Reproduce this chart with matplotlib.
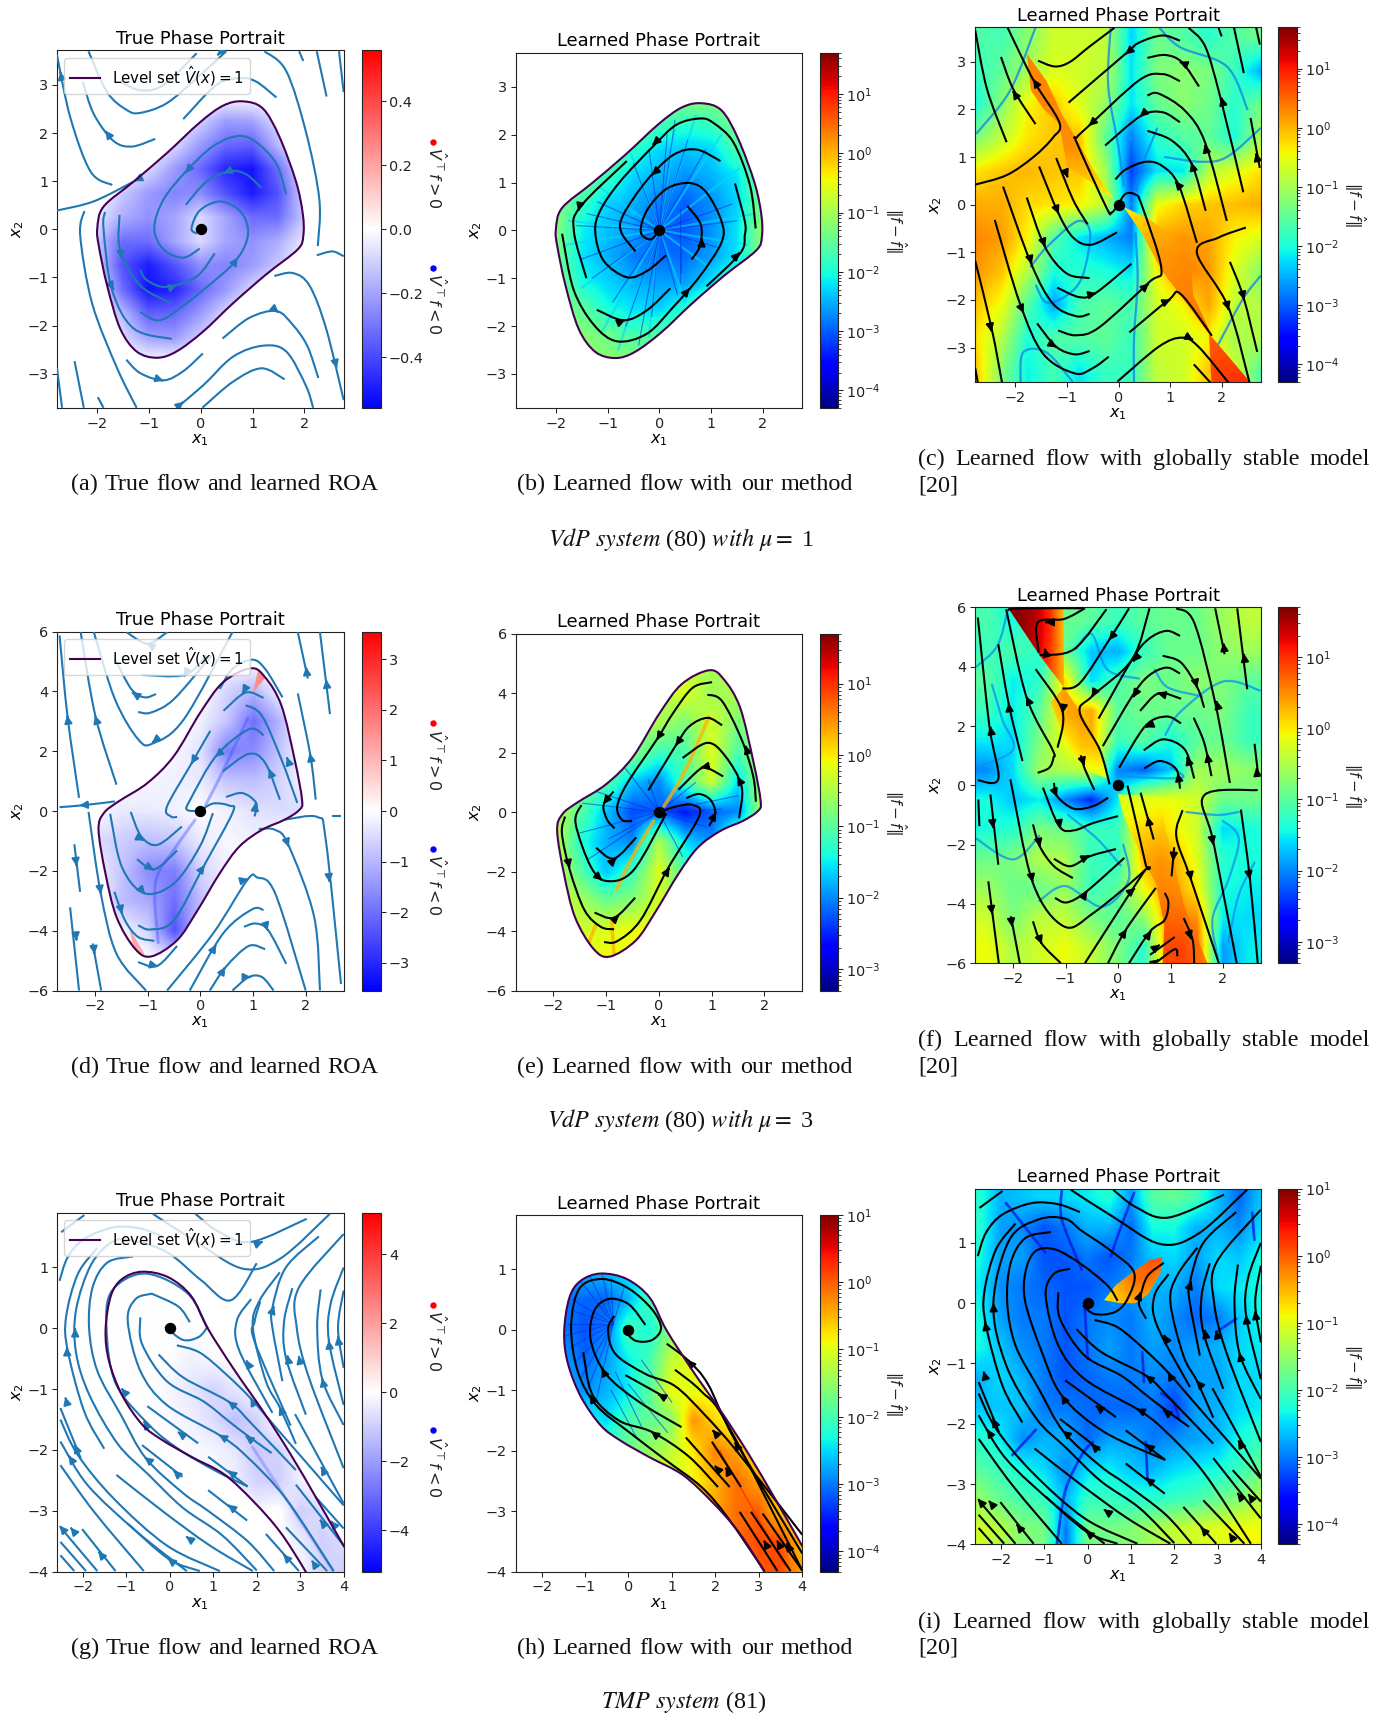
import numpy as np
import matplotlib
matplotlib.use("Agg")
import matplotlib.pyplot as plt
from matplotlib.path import Path
from matplotlib.patches import PathPatch, FancyArrowPatch
from matplotlib.lines import Line2D
from matplotlib.colors import LogNorm, Normalize
from matplotlib.cm import ScalarMappable

# ---------- level sets ----------
VDP1_BOUNDARY = [(-2.0,.02),(-1.88,.47),(-1.3,.99),(-.66,1.58),(-.02,2.22),(.43,2.57),(.81,2.66),(1.2,2.51),(1.52,1.92),(1.84,.99),(1.97,.32),(1.98,-.13),(1.87,-.42),(1.26,-.94),(.62,-1.54),(.04,-2.13),(-.47,-2.54),(-.85,-2.67),(-1.24,-2.54),(-1.56,-2.06),(-1.81,-1.17),(-1.97,-.35)]
VDP3_BOUNDARY = [(.95,4.77),(1.23,4.47),(1.54,3.52),(1.79,1.72),(1.93,.38),(1.88,.04),(1.6,-.29),(1.17,-.63),(.74,-1.19),(.37,-2.08),(-.07,-3.37),(-.44,-4.32),(-.93,-4.86),(-1.24,-4.6),(-1.59,-3.54),(-1.8,-2.08),(-1.93,-.63),(-1.83,-.07),(-1.55,.32),(-1,.94),(-.5,1.84),(0,3.29),(.43,4.3)]
TMP_BOUNDARY = [(-.64,.93),(-.04,.84),(.49,.53),(.87,0),(1.48,-.68),(2.16,-1.38),(2.77,-2.06),(3.37,-2.79),(3.98,-3.55),(4.5,-4.2),(3.6,-4.6),(3.11,-3.98),(2.54,-3.35),(1.93,-2.85),(1.25,-2.4),(.49,-2.11),(-.19,-1.83),(-.64,-1.58),(-1.1,-1.1),(-1.4,-.54),(-1.48,-.03),(-1.36,.53),(-1.1,.81)]

# ---------- streamlines ----------
A_LINES = [
[(-2.78,3.63),(-2.52,2.32),(-2.13,1.2),(-1.71,.92)],
[(-2.28,3.07),(-2.07,2.4),(-1.69,1.84),(-1.33,1.72),(-.88,1.88)],
[(-2.17,3.7),(-1.81,2.85),(-1.43,2.48),(-1.17,2.42),(-.66,2.62),(-.08,3.14),(.49,3.7)],
[(-1.56,3.07),(-1.17,2.89),(-.72,3.0),(-.08,3.66)],
[(1.46,2.74),(1.07,3.07),(.75,3.14),(.3,3.0),(-.34,2.29)],
[(1.23,3.7),(1.65,3.29),(2.03,2.03),(2.29,.62),(2.26,-.35)],
[(1.9,3.7),(1.98,3.5)],[(2.24,3.7),(2.43,2.76)],[(2.67,3.7),(2.76,2.85)],
[(-2.78,.39),(-2.07,.58),(-1.3,.99)],
[(-2.25,.38),(-2.33,-.13),(-2.1,-1.54),(-1.62,-2.88),(-1.24,-3.71)],
[(-1.85,.36),(-1.88,.02),(-1.72,-1.24),(-1.3,-2.06),(-.56,-2.28)],
[(-1.57,.3),(-1.56,-.42),(-1.17,-1.17),(-.56,-1.54)],
[(1.65,.73),(1.46,1.36),(1.07,1.81),(.72,1.94),(.24,1.73),(-.28,1.21),(-.72,.62),(-.9,.02),(-.72,-.42),(-.34,-.59),(-.02,-.4)],
[(1.17,.86),(.88,1.14),(.56,1.21),(.11,.99),(-.29,.51)],
[(-1.17,-1.72),(-.79,-1.89),(-.28,-1.54),(.24,-1.09),(.62,-.72),(.85,-.35),(.91,.02),(.75,.39),(.37,.58),(-.02,.39),(-.18,.02),(-.08,-.09)],
[(-1.17,-.85),(-1.04,-1.06),(-.66,-1.2),(-.08,-.98),(.27,-.5)],
[(-1.44,-2.71),(-1.17,-2.99),(-.72,-3.14),(-.34,-2.95),(.04,-2.58)],
[(.42,-2.27),(.94,-1.84),(1.46,-1.7),(1.78,-1.99),(2.06,-2.43),(2.27,-3.09)],
[(-.47,-3.71),(.04,-3.25),(.62,-2.65),(1.2,-2.42),(1.65,-2.54),(2.03,-3.25),(2.17,-3.71)],
[(.03,-3.71),(.62,-3.17),(1.17,-2.89),(1.62,-3.12)],
[(1.42,-.97),(1.78,-.91),(2.1,-1.17),(2.42,-2.06),(2.76,-3.55)],
[(2.24,-.54),(2.54,-.46),(2.76,-.56)],
[(-2.44,-2.74),(-2.26,-3.71)],[(-1.99,-3.49),(-1.88,-3.71)],[(-2.78,-2.88),(-2.68,-3.71)],
]
A_ARROWS = [(-2.71,3.25,'u'),(-1.83,2.03,'u'),(.33,3.63,'l'),(-1.27,1.01,'l'),(-.28,1.19,'l'),(.46,1.17,'l'),(-1.53,-.59,'d'),(-1.69,-1.24,'d'),(-.48,-1.17,'r'),(.7,-.61,'r'),(-.74,-3.14,'r'),(1.49,-1.72,'r'),(-.35,-3.6,'r'),(2.62,-2.86,'d')]

B_LINES = [
[(1.86,.04),(1.75,.94),(1.43,1.84),(1.04,2.25),(.78,2.34),(.33,2.21),(-.12,1.76),(-.76,1.02),(-1.14,.42),(-1.24,-.03),(-1.08,-.63),(-.63,-.98),(-.24,-.85),(.13,-.52)],
[(1.18,1.45),(.72,1.69),(.27,1.58),(-.24,1.05),(-.69,.34),(-.74,-.03),(-.46,-.44)],
[(.62,-.61),(.78,-.33),(.8,.12),(.54,.51)],
[(-1.88,-.07),(-1.66,-1.23),(-1.27,-1.97),(-.82,-2.32),(-.24,-2.16),(.27,-1.6),(.78,-.96),(1.2,-.25),(1.2,.19),(.91,.79),(.59,.99),(.14,.87),(-.24,.42),(-.36,-.03),(-.18,-.19),(-.02,-.03)],
[(.91,-1.17),(1.56,-.48),(1.65,-.1),(1.65,.19),(1.46,.98)],
[(-.63,1.45),(-1.53,.49),(-1.65,-.03),(-1.41,-1.0)],
[(-1.21,-1.66),(-.69,-1.88),(-.24,-1.67),(.21,-1.21)],
]
B_ARROWS = [(-.12,1.8,'l'),(-.13,1.17,'l'),(-1.56,.43,'d'),(.82,-.19,'u'),(.57,-1.23,'r'),(1.54,-.48,'r'),(-.68,-1.88,'r')]

C_LINES = [
[(-2.78,3.66),(-2.55,2.42),(-2.17,1.31)],
[(-2.28,3.1),(-2.04,2.42),(-1.61,1.69)],
[(-2.15,3.71),(-1.65,2.61),(-1.15,1.73),(-1.27,1.41),(-1.65,1.0),(-2.17,.62),(-2.78,.42)],
[(-1.56,3.02),(-1.24,2.9),(-.95,2.99),(-.56,3.32),(-.08,3.71)],
[(1.19,3.44),(.85,3.55),(.4,3.4),(.14,3.17),(-.97,2.14)],
[(1.56,2.48),(1.23,2.99),(.91,3.14),(.56,3.08)],
[(1.19,2.59),(.85,2.74),(.4,2.61),(-.56,1.67),(-.81,1.41),(-.81,1.3),(-.24,-.05),(-.14,-.17),(-.01,-.01)],
[(1.36,3.71),(1.68,3.32),(1.97,2.27),(2.42,.26)],
[(1.94,3.71),(2.0,3.53)],[(2.24,3.71),(2.43,2.76)],[(2.67,3.71),(2.74,3.36)],[(2.56,1.82),(2.74,.77)],
[(2.1,-.34),(1.68,1.3),(1.29,1.97),(.78,2.33),(.56,2.29)],
[(1.19,1.73),(.85,1.94),(.43,1.86),(-.26,1.24)],
[(1.69,-.13),(1.42,.85),(1.04,1.34),(.56,1.55)],
[(1.52,-.8),(1.17,.4),(.85,.81),(.53,.9),(.14,.74),(-.06,.53)],
[(-1.17,-2.64),(-.82,-2.74),(-.37,-2.57),(.59,-1.63),(.83,-1.33),(.45,-.01),(.33,.21),(.14,.23),(0,.02)],
[(-1.21,.98),(-.88,.1),(-.6,-.41)],
[(-1.54,.8),(-1.17,-.17),(-.88,-.69),(-.53,-.84),(-.03,-.58)],
[(-1.78,.15),(-1.43,-.88),(-1.01,-1.44),(-.56,-1.54)],
[(-2.24,.38),(-1.69,-1.25),(-1.27,-2.08),(-.82,-2.34),(-.56,-2.29)],
[(-1.19,-1.74),(-.76,-1.94),(-.44,-1.85),(.25,-1.24)],
[(-2.4,-.32),(-1.91,-2.08),(-1.46,-3.13),(-.85,-3.54),(-.5,-3.43),(-.19,-3.19)],
[(-1.58,-2.49),(-1.21,-2.98),(-.85,-3.14),(-.56,-3.07)],
[(-2.78,-1.18),(-2.46,-2.6),(-2.26,-3.73)],[(-2.78,-3.43),(-2.73,-3.73)],
[(.21,-2.68),(.97,-2.0),(1.21,-1.88),(1.81,-2.75)],
[(-.02,-3.71),(.78,-2.98),(1.23,-2.79),(1.55,-2.98),(2.13,-3.73)],
[(1.46,-3.35),(1.78,-3.73)],
[(2.47,-.48),(1.94,-.69),(1.52,-1.01),(2.13,-2.15),(2.54,-3.73)],
[(2.16,-1.2),(2.42,-1.93),(2.69,-3.09)],
]
C_ARROWS = [(-2.04,2.37,'u'),(-1.64,2.61,'u'),(.15,3.17,'l'),(1.2,2.99,'l'),(-.56,1.67,'l'),(2.0,2.23,'u'),(2.67,1.06,'u'),(1.68,1.24,'u'),(.43,1.86,'l'),(1.42,.86,'u'),(1.11,.47,'u'),(.57,-1.67,'r'),(-.99,.59,'d'),(-1.17,-.17,'d'),(-1.43,-.86,'d'),(-1.69,-1.22,'d'),(-.45,-1.86,'r'),(-1.85,-2.25,'d'),(-1.22,-2.98,'r'),(-2.47,-2.64,'d'),(.99,-2.0,'r'),(1.43,-2.83,'r'),(2.13,-2.19,'d'),(2.43,-1.97,'d')]

D_LINES = [
[(-2.67,5.87),(-2.52,3.18),(-2.3,.44)],
[(-2.27,5.98),(-1.99,3.18),(-1.59,.88)],
[(-2.02,5.98),(-1.62,3.74),(-1.18,2.4),(-.9,2.26),(-.31,3.07),(.61,5.98)],
[(-1.62,5.08),(-1.31,4.08),(-1.06,3.8),(-.84,3.91)],
[(-1.18,3.31),(-.94,3.29),(-.5,3.74),(.21,5.2)],
[(.12,5.2),(-.3,4.55),(-1.12,4.55)],
[(-1.4,5.98),(-1,5.59),(-.63,5.98)],
[(.37,4.08),(.61,4.75),(.98,5.06),(1.23,4.75),(1.56,3.8)],
[(1.85,5.98),(2.04,4.43)],[(2.27,5.98),(2.46,3.24)],
[(1.85,3.93),(2.09,1.84),(2.19,.38)],
[(-2.67,.13),(-2.24,.19),(-1.62,.32)],
[(-2.12,-.03),(-1.89,-2.73),(-1.59,-4.77),(-1.03,-6)],
[(-1.18,-5.05),(-.82,-5.18),(-.44,-4.51)],
[(-1.63,-2.7),(-1.43,-3.65),(-1.18,-4.21),(-.87,-4.34)],
[(-1.71,-.09),(-1.49,-1.86),(-1.06,-2.75),(-.5,-2.42),(-.01,-1.19),(.24,-.07)],
[(-1.18,-3.82),(-.94,-3.96),(-.5,-3.65),(.06,-1.86),(.61,-.07),(.55,.18),(.24,.25),(0,0)],
[(-1.32,-.03),(-1.12,-.85),(-.81,-1.13),(-.35,-.52)],
[(-1.2,-1.61),(-.87,-1.95),(-.44,-1.32)],
[(1.2,3.78),(.86,3.96),(.44,3.35)],
[(1.84,.27),(1.54,1.72),(1.17,3.18),(.86,3.54)],
[(1.2,2.53),(.92,2.73),(.3,1.84),(-.19,.38),(-.25,.04),(0,0)],
[(.19,2.68),(-.16,1.61),(-.63,.16),(-.56,-.18),(-.44,-.2)],
[(1.51,.38),(1.23,1.61),(.92,1.91),(.43,1.33)],
[(1.03,-.18),(1.06,.27),(.8,.6),(.49,.47)],
[(2.49,-.16),(2.67,-.16)],
[(1.6,-.29),(2.22,-.2),(2.38,-.96),(2.67,-5.78)],
[(1.11,-.6),(1.42,-.63),(1.67,-1.13),(2.16,-3.54),(2.27,-6.0)],
[(-.63,-6),(.24,-4.1),(.89,-2.31),(1.08,-2.22),(1.42,-2.75),(2.0,-6)],
[(-.2,-6),(.43,-4.1),(.98,-3.29),(1.2,-3.31)],
[(.18,-6),(.49,-5.2),(.92,-4.51),(1.23,-4.62)],
[(.83,-3.87),(1.05,-3.76),(1.29,-3.99),(1.63,-5.11)],
[(.61,-6),(.92,-5.55),(1.17,-5.55),(1.39,-6)],
[(-2.39,-1.11),(-2.28,-2.7)],[(-2.47,-3.22),(-2.3,-6)],[(-2.04,-4.43),(-1.88,-6)],
]
D_ARROWS = [(-2.52,3.15,'u'),(-1.99,3.15,'u'),(-.9,2.3,'l'),(-1.28,3.95,'u'),(-.3,4.52,'l'),(-1,5.59,'l'),(2.01,4.77,'u'),(2.39,4.35,'u'),(2.08,1.89,'u'),(-2.27,.19,'l'),(-2.35,-1.8,'d'),(-1.89,-2.73,'d'),(-.82,-5.18,'r'),(-1.49,-3.4,'d'),(-1.06,-2.75,'r'),(-.9,-1.95,'r'),(-1.08,-.97,'r'),(.07,-1.84,'u'),(.81,3.96,'l'),(1.65,1.76,'u'),(.3,1.84,'l'),(-.16,1.61,'l'),(1.31,1.37,'u'),(1.05,.24,'u'),(1.67,-1.16,'d'),(2.45,-2.34,'d'),(.89,-2.28,'r'),(.29,-4.5,'u'),(.46,-5.25,'u'),(1.27,-3.96,'d'),(.94,-5.55,'r'),(-2.35,-4.29,'d'),(-2.01,-4.74,'d')]

E_LINES = [
[(1.01,4.37),(.64,4.18),(.27,3.33),(-.04,2.44),(-.6,.97),(-.79,.18),(-.7,-.26),(-.51,-.3)],
[(1.2,2.92),(.92,3.17),(.58,2.89),(.33,2.27),(-.2,.73)],
[(1.84,.35),(1.79,1.2),(1.57,2.44),(1.2,3.73),(.92,3.95)],
[(1.52,-.21),(1.57,.86),(1.26,1.88),(.92,2.33),(.45,1.82)],
[(1.22,1.2),(.92,1.48),(.76,1.42),(.37,.75)],
[(.95,-.47),(1.07,-.04),(.98,.41),(.76,.61),(.52,.47)],
[(-1.04,-4.37),(-.79,-4.34),(-.35,-3.64),(.17,-1.9),(.76,-.15),(.64,.24),(.33,.19),(0,0)],
[(-1.47,.24),(-1.58,-.38),(-1.29,-1.84),(-.98,-2.32),(-.48,-1.95),(.14,-.04)],
[(-1.78,-.15),(-1.84,-.71),(-1.69,-1.95),(-1.41,-3.3),(-1.1,-3.86),(-.85,-3.94)],
[(-1.19,-1.2),(-.85,-1.56),(-.43,-.85)],
[(-1.22,-3.38),(-.85,-3.55),(-.45,-2.88)],
[(-.86,.69),(-1.05,.24),(-.98,-.26),(-.84,-.55)],
]
E_ARROWS = [(-.03,2.46,'d'),(.33,2.27,'l'),(1.65,2.2,'u'),(1.5,1.16,'u'),(.81,1.5,'l'),(1.07,-.04,'u'),(.19,-1.9,'u'),(-1.09,-2.27,'r'),(-1.7,-1.84,'d'),(-.82,-1.56,'r'),(-.77,-3.49,'r'),(-1.04,.3,'d')]

F_LINES = [
[(-2.67,5.66),(-2.45,2.0),(-2.28,.22),(-2.67,.17)],
[(-2.28,4.76),(-2.08,2.73),(-1.82,.82)],
[(-2.13,5.94),(-1.74,2.96),(-1.25,1.21),(-1.23,.93),(-1.31,.59),(-1.53,.42)],
[(-2.1,5.92),(-1.84,5.97),(-.66,5.97)],
[(-1.51,4.48),(-1.53,5.49),(-1.03,5.61),(-.63,5.97)],
[(-1.49,4.39),(-.84,4.59),(-.22,5.94)],
[(-1.06,3.26),(-.72,3.46),(-.16,4.93),(.21,5.97)],
[(-1.57,3.92),(-1.06,2.51),(-1.15,1.27)],
[(.6,5.97),(.27,4.25),(-.49,3.01),(-.73,2.47),(-.35,1.21),(-.16,.03)],
[(1.18,5.04),(.92,5.21),(.58,4.93),(.27,4.25),(-.37,2.25)],
[(1.11,5.97),(1.45,5.49),(1.85,2.79),(2.13,.08)],
[(1.85,5.97),(2.03,4.42)],[(2.27,5.97),(2.46,3.24)],[(2.6,1.4),(2.66,.48)],
[(.85,4.37),(1.2,4.14),(1.51,3.3),(1.64,2.62)],
[(1.18,3.77),(.92,3.97),(.58,3.69),(.27,3.01),(-.29,1.32)],
[(1.2,2.92),(.77,3.1),(.42,2.51)],
[(1.2,2.09),(.92,2.32),(.52,2.0),(.02,.59)],
[(1.44,2.28),(1.64,1.44),(1.78,.31)],
[(1.45,.23),(1.27,1.21),(.86,1.55),(.49,1.18)],
[(1.18,-.11),(1.11,.54),(.8,.82),(.5,.57)],
[(-.71,1.01),(-.63,.54),(-.45,-.16)],
[(-1.22,.08),(-1.16,-.37),(-.84,-.79),(-.47,-.7),(-.19,-.42)],
[(-1.43,-.08),(-1.12,-1.38),(-.84,-1.52),(-.47,-1.27),(0,-1.04)],
[(-1.62,-1.32),(-1.49,-2.06),(-1.22,-2.73),(-.86,-3.13)],
[(-1.22,-2.48),(-.91,-2.73),(-.53,-2.39),(-.04,-2.15)],
[(-1.2,-3.8),(-.97,-3.95),(-.6,-3.58),(.12,-2.45)],
[(-2.05,.2),(-1.62,-3.3),(-1.03,-4.76),(-.47,-4.31),(.52,-2.85),(.52,-2.62),(.18,-.01)],
[(.43,-.25),(.68,-1.83)],[(-2.43,-.31),(-2.28,-2.68)],[(-2.66,-.48),(-2.64,-1.38)],
[(-2.47,-3.24),(-2.27,-6)],[(-2.04,-4.42),(-1.87,-6)],
[(-1.62,-4.59),(-1.46,-5.32),(-1.09,-6)],
[(-.63,-6),(.27,-3.52),(.52,-2.85)],
[(-.19,-6),(.15,-4.87),(.72,-3.46)],
[(.21,-6),(.61,-4.93),(.89,-4.54),(.96,-3.97),(.89,-3.63)],
[(.61,-5.72),(1.08,-5.12)],[(.71,-6),(1.08,-5.53),(1.13,-5.77)],
[(1.02,-3.07),(1.07,-2.09)],
[(1.23,-.84),(1.11,-1.72),(1.39,-3.18),(1.92,-6)],
[(1.25,-4.48),(1.42,-5.21),(1.45,-6)],
[(2.66,-.16),(1.64,-.34),(1.82,-1.94),(2.26,-6)],
[(2.34,-.82),(2.51,-3.13),(2.66,-6)],
]
F_ARROWS = [(-2.43,1.95,'u'),(-2.08,2.73,'u'),(-1.74,2.96,'u'),(-1.36,5.5,'l'),(-1.39,4.58,'u'),(-.16,4.93,'l'),(-1.05,2.48,'d'),(-.49,3.01,'l'),(.3,4.2,'l'),(1.88,2.81,'u'),(2.01,4.76,'u'),(2.4,4.4,'u'),(2.64,.55,'u'),(1.5,3.33,'r'),(.3,3.0,'l'),(.77,3.1,'l'),(.54,1.97,'l'),(1.7,1.03,'u'),(1.32,.93,'u'),(1.14,.37,'u'),(-.65,.7,'d'),(-1.17,-.35,'d'),(-1.1,-1.41,'r'),(-1.49,-2.04,'d'),(-.56,-2.38,'r'),(-.6,-3.6,'r'),(-1.63,-3.23,'d'),(.31,-3.49,'u'),(.57,-1.1,'u'),(-2.38,-1.41,'d'),(-2.4,-4.31,'d'),(-2.02,-4.73,'d'),(-1.46,-5.32,'d'),(.15,-4.89,'u'),(.62,-4.95,'u'),(.78,-5.4,'u'),(.76,-5.9,'u'),(1.05,-2.51,'d'),(1.39,-3.16,'d'),(1.39,-5.16,'d'),(1.81,-1.97,'d'),(2.51,-3.13,'d')]

TMP_LINES = [
[(-2.5,1.58),(-1.97,1.86)],
[(-.18,1.51),(-.68,1.64),(-1.29,1.66),(-1.97,1.47),(-2.35,1.17),(-2.54,.78)],
[(-1.67,1.32),(-2.12,.89),(-2.39,.18),(-2.35,-.37),(-1.97,-1.37),(-1.51,-1.98)],
[(-2.52,-1.31),(-2.05,-2.14)],
[(-.85,1.18),(-1.44,1.08),(-1.78,.67),(-1.86,.01),(-1.67,-.7),(-1.13,-1.42),(-.56,-2.13),(.29,-2.7),(.88,-3.0),(1.79,-3.5),(2.4,-3.99)],
[(-.41,.57),(-.79,.48),(-.97,.12),(-.68,-.7),(-.07,-1.26),(1.15,-1.76),(1.76,-2.1),(2.67,-2.8),(3.77,-3.99)],
[(-.68,.18),(-.64,-.26),(-.07,-.87),(.77,-1.2),(1.36,-1.53),(1.76,-1.75),(2.34,-2.05)],
[(-.26,-.43),(.31,-.81),(1.36,-1.21),(1.91,-1.59),(2.9,-2.33)],
[(.16,-.28),(.69,-.4),(1.3,-.76),(1.87,-1.16),(2.67,-1.82),(4,-2.91)],
[(-2.52,-1.5),(-2.12,-2.08),(-1.29,-2.8),(-.07,-3.57),(1.15,-3.99)],
[(-2.52,-1.86),(-1.89,-2.58),(-.75,-3.35),(.39,-3.99)],
[(-2.52,-2.25),(-1.74,-3.02),(-.6,-3.99)],
[(-1.23,-2.41),(-.14,-3.02),(.92,-3.57),(1.91,-3.99)],
[(-.97,-3.21),(-.03,-3.79),(.69,-3.99)],
[(-2.02,-3.3),(-1.25,-3.99)],[(-2.52,-3.27),(-1.67,-3.99)],[(-2.52,-3.51),(-1.93,-3.99)],[(-2.52,-3.73),(-2.2,-3.99)],
[(-.64,-1.92),(.29,-2.44)],[(-.52,-1.28),(.65,-1.89)],[(.88,-2.11),(1.79,-2.6)],[(.88,-2.66),(1.78,-3.16)],
[(2.21,-3.38),(2.97,-3.99)],[(2.67,-3.27),(3.62,-3.99)],[(2.9,-2.57),(4,-3.57)],[(3.35,-2.77),(4,-3.29)],
[(2.88,-1.41),(4,-2.88)],
[(2.82,.66),(2.63,.12),(2.67,-.48),(3.13,-1.42)],
[(2.53,.92),(2.06,.45),(1.91,.01),(2.21,-.87),(2.53,-1.3),(2.9,-1.9)],
[(3.43,1.51),(2.67,1.0),(2.36,.34),(2.36,.01),(2.59,-.87)],
[(4,1.55),(2.97,.67),(2.92,.01),(3.2,-.81),(4,-2.3)],
[(3.47,.64),(3.39,.01),(3.51,-.84),(4,-1.59)],
[(4,1.0),(3.7,.4),(3.66,-.21),(4,-1.26)],
[(4,.62),(3.87,.01),(4,-.65)],
[(1.87,.48),(1.54,.12),(1.6,-.37),(2.36,-1.39)],
[(.59,1.88),(1.12,1.59),(1.87,1.42),(3.15,1.8)],
[(-.39,1.88),(.59,1.43),(1.68,.98),(2.55,1.15),(3.68,1.88)],
]
TMP_ARROWS = [(-2.37,-.33,'u'),(-2.18,-.02,'u'),(-2.4,-1.15,'u'),(-2.18,-1.93,'u'),(-2.31,-2.11,'u'),(-.59,-1.54,'l'),(-.56,-2.13,'l'),(.1,-2.35,'l'),(.2,-1.71,'l'),(1.15,-1.76,'l'),(1.36,-1.21,'l'),(1.76,-1.78,'l'),(1.87,-1.16,'l'),(1.36,-2.35,'l'),(1.36,-2.91,'l'),(.39,-3.43,'l'),(-.03,-3.79,'l'),(-1.63,-3.68,'l'),(-2.27,-3.29,'l'),(-2.52,-3.26,'l'),(2.63,-3.73,'l'),(3.28,-3.83,'l'),(3.47,-3.16,'l'),(3.72,-3.18,'l'),(3.49,-2.29,'l'),(2.53,-1.3,'l'),(1.77,-.54,'u'),(2.71,-.46,'u'),(2.97,-.47,'u'),(3.51,-.84,'u'),(3.66,-.22,'u'),(3.87,-.15,'u'),(2.39,.35,'u')]
G_EXTRA = [
[(-.11,.03),(.3,-.19),(.67,-.14),(.87,.03)],
[(.46,.1),(.19,.36),(-.42,.57)],
[(2.08,.44),(1.95,.11),(1.95,-.22),(2.78,-1.6)],
[(2.0,1.07),(1.4,.46),(.72,.79),(-.04,1.24),(-.8,1.43),(-1.3,1.43),(-1.81,1.05),(-2.16,.3),(-2.16,-.4),(-1.85,-1.1),(-1.2,-1.9),(-.5,-2.4),(.3,-2.95),(1.2,-3.4),(2.0,-3.98)],
[(.87,0),(.4,.58),(-.57,.9),(-1.33,.62),(-1.46,.02),(-1.25,-.9),(-.49,-1.58),(.19,-1.98),(1.02,-2.33),(1.79,-2.6)],
]
G_EXTRA_ARROWS = [(-1.1,-1.0,'l'),(2.12,1.42,'r')]
I_EXTRA = [
[(1.76,.67),(1.38,.45),(1.22,.12),(1.19,-.04),(1.35,-.26)],
[(-.11,-.04),(.16,-.18),(.62,-.15),(.92,.07),(1.07,.51),(.53,.87),(-.14,1.2),(-.52,1.4),(-1.13,1.39),(-1.81,1.05),(-2.18,.0),(-1.9,-1.0),(-1.2,-1.9),(-.5,-2.4),(.3,-2.95),(1.2,-3.4),(2.0,-3.98)],
[(.69,.04),(.46,.29),(-.14,.64),(-.75,.89),(-1.21,.86),(-1.44,.51),(-1.44,.01),(-1.06,-.81),(-.59,-1.54),(.39,-2.14),(1.79,-2.6)],
]
I_EXTRA_ARROWS = [(1.22,.17,'u')]

H_LINES = [
[(-.11,0),(.16,-.18),(.54,-.17),(.75,.03),(.54,.34),(.01,.68),(-.6,.84),(-1.13,.68),(-1.32,.06),(-1.17,-.68),(-.75,-1.24),(.01,-1.69),(.85,-2.15),(1.68,-2.6),(2.29,-3.11),(3.13,-3.99)],
[(.39,.08),(.01,.42),(-.45,.51),(-.79,.31),(-.87,-.17),(-.52,-.73),(.24,-1.19),(1.22,-1.61)],
[(-.33,.23),(-.47,0),(-.3,-.4),(.39,-.73),(1.07,-.93),(1.76,-1.41),(2.52,-2.03),(4,-3.39)],
[(-.07,-.75),(.88,-1.13)],
[(.88,-.23),(1.38,-.51),(1.83,-.9),(2.44,-1.81),(4,-3.7)],
[(1.07,-.66),(1.68,-1.02),(2.29,-1.58),(4,-3.98)],
[(-1.04,-.37),(-.83,-1.07),(-.22,-1.5),(.54,-1.69),(1.38,-2.09),(2.06,-2.6)],
[(1.32,-1.78),(2.33,-2.6)],[(1.92,-1.85),(2.59,-2.6)],
[(2.56,-3.01),(3.43,-3.99)],[(2.82,-3.01),(3.73,-3.99)],[(3.09,-3.04),(4,-3.98)],
]
H_ARROWS = [(-.6,-.65,'l'),(.7,-1.07,'l'),(-.87,-1.09,'l'),(.54,-1.69,'l'),(1.38,-.51,'l'),(1.95,-1.67,'l'),(2.46,-1.87,'l'),(2.0,-2.26,'l'),(2.25,-2.29,'l'),(3.13,-3.5,'l'),(3.43,-3.5,'l'),(3.65,-3.54,'l')]

# ---------- heat maps ----------
X_VDP = [-2,-1.5,-1,-.5,0,.5,1,1.5,2]
Y_A = [2.75,2.25,1.75,1.25,.75,.25,-.25,-.75,-1.25,-1.75,-2.25,-2.75]
A_Z = [
[0,0,0,0,0,0,0,0,0],
[0,0,0,0,-.1,-.22,-.2,-.08,0],
[0,0,0,-.08,-.22,-.33,-.35,-.15,0],
[0,0,-.08,-.22,-.33,-.48,-.52,-.32,-.05],
[0,-.12,-.22,-.27,-.25,-.38,-.5,-.38,-.1],
[-.05,-.18,-.24,-.2,-.08,-.2,-.32,-.32,-.12],
[-.12,-.32,-.32,-.2,-.08,-.2,-.24,-.18,-.05],
[-.1,-.38,-.5,-.38,-.25,-.27,-.22,-.12,0],
[-.05,-.32,-.52,-.48,-.33,-.22,-.08,0,0],
[0,-.15,-.35,-.33,-.22,-.08,0,0,0],
[0,-.08,-.2,-.22,-.1,0,0,0,0],
[0,0,0,0,0,0,0,0,0]]
Y_B = [2.75,2.2,1.65,1.1,.55,0,-.55,-1.1,-1.65,-2.2,-2.75]
B_Z = [
[-1.2]*9,
[-1.2,-1.2,-1.2,-1.2,-1.7,-1.9,-1.8,-1.3,-1.2],
[-1.2,-1.2,-1.2,-1.9,-2.3,-2.4,-2.3,-1.7,-1.2],
[-1.2,-1.2,-1.8,-2.3,-2.5,-2.7,-2.5,-2.2,-1.2],
[-1.2,-1.8,-2.3,-2.5,-2.8,-3,-2.7,-2.3,-1.3],
[-1.2,-2.1,-2.4,-2.6,-3,-3,-2.7,-2.2,-1.1],
[-1.3,-2.2,-2.5,-2.8,-2.9,-2.9,-2.6,-2.2,-1.2],
[-1.2,-2.0,-2.3,-2.5,-2.6,-2.6,-2.2,-1.6,-1.2],
[-1.2,-1.5,-2.0,-2.2,-2.3,-1.9,-1.3,-1.2,-1.2],
[-1.2,-1.2,-1.4,-1.7,-1.6,-1.2,-1.2,-1.2,-1.2],
[-1.2]*9]
B_RAYS = [[(0,0),(.3,2.3)],[(0,0),(.15,2.0)],[(0,0),(-.5,1.4)],[(0,0),(.55,1.9)],[(0,0),(.9,1.7)],[(0,0),(-.2,1.7)],[(.4,.45),(.4,-1.1)],[(.42,-.3),(.42,-.9)],[(0,0),(-1.4,.35)],[(0,0),(-1.6,.1)],[(0,0),(-1.2,.6)],[(0,0),(1.4,.55)],[(0,0),(1.5,.2)],[(0,0),(-.9,-1.5)],[(0,0),(-.4,-2.4)],[(0,0),(-.65,-2.0)],[(0,0),(-1.5,-.6)],[(0,0),(-1.3,-1.0)],[(0,0),(.35,-1.35)],[(0,0),(1.1,-.35)],[(0,0),(-.15,-1.8)]]
B_RAYS_LIGHT = [[(0,0),(.7,2.4)],[(0,0),(.3,2.1)],[(0,0),(1.2,2.0)],[(0,0),(1.55,1.3)],[(0,0),(-.55,1.6)],[(0,0),(-1.15,.9)],[(0,0),(-1.75,.2)],[(0,0),(-1.8,-.3)],[(0,0),(-1.5,-1.2)],[(0,0),(-1.1,-2.1)],[(0,0),(-.8,-2.5)],[(0,0),(-.2,-2.2)],[(0,0),(.5,-1.5)],[(0,0),(1.0,-.8)],[(0,0),(1.7,-.3)],[(0,0),(1.85,.35)]]

X_C = [-2.75,-2.25,-1.75,-1.25,-.75,-.25,.25,.75,1.25,1.75,2.25,2.75]
Y_C = [3.5,2.8,2.1,1.4,.7,0,-.7,-1.4,-2.1,-2.8,-3.5]
C_Z = [
[-1.6,-1.7,-1.2,-.7,-.7,-.8,-2.3,-1.4,-1.6,-1.9,-1.6,-1.4],
[-1.8,-1.5,-1.0,-.6,-.7,-.8,-2.2,-1.3,-1.2,-1.3,-1.8,-2.5],
[-2,-1.2,-.4,-.1,-.6,-1.1,-2.2,-1.5,-1.2,-1.4,-1.9,-1.4],
[-1.3,-.8,-.3,-.1,-.1,-1.5,-2.8,-1.9,-1.6,-1.5,-2.0,-1.0],
[-.3,-.1,0,-.1,-.1,-1.0,-3.2,-2.2,-2.2,-.9,-.6,-.3],
[.05,.05,-.25,-.3,-.4,-.8,-2.8,-.5,-.2,-.1,-.05,.05],
[.3,.15,-.4,-1.6,-2.2,-2.5,-2.8,.1,.2,.1,-.4,-.6],
[.2,-.1,-.9,-2.0,-1.9,-2,-2.2,-.4,.3,.2,-.6,-1.2],
[-.1,-.5,-1.6,-2.6,-1.7,-1.5,-1.7,-.7,-.4,.1,-.8,-.9],
[-.3,-.9,-2,-1.6,-1.6,-1.5,-1.8,-.7,-.7,-.4,-1,-.9],
[-.1,-1.3,-2.1,-1.7,-2.2,-1.8,-1.8,-.8,-.7,-.1,-.7,-1.6]]
C_BANDS = [
 ([(-1.78,3.17),(-1.4,2.6),(-1.1,1.9),(-.8,1.35),(-.5,.75),(-.08,.1),(-.5,.45),(-1,.8),(-1.15,1.7),(-1.45,2.0),(-1.7,2.4)],
  [-1.8,-1.4,-1,-.6,-.2],[3.2,2.2,1.2,.2],[[.3,.3,.3,.3,.3],[.3,.3,.3,.3,.3],[.25,.25,.25,.2,.1],[-.2,-.2,-.2,-.25,-.35]]),
 ([(.1,-.05),(.45,-.6),(.85,-1.4),(1.2,-1.9),(1.75,-2.7),(2.55,-3.72),(1.8,-3.72),(1.75,-2.6),(1.45,-1.9),(1.4,-1.2),(1.1,-.75),(.6,-.3)],
  [.1,.7,1.3,1.9,2.5],[-.1,-1.1,-2.1,-3.1,-3.8],[[-.4,-.1,0,0,0],[-.1,.15,.25,.25,.3],[.2,.3,.35,.35,.4],[.4,.4,.5,.6,.7],[.5,.5,.6,.8,.9]]),
]
C_RIDGES = [
 [(-2.75,1.5),(-2.1,2.4),(-1.6,3.75)],
 [(-.15,3.75),(-.2,2.5),(0,1.2),(.1,.4)],
 [(.75,1.6),(.45,.8),(.35,.3)],
 [(.33,-.6),(.37,-1.6),(.3,-2.8),(.3,-3.75)],
 [(-1.7,-1.3),(-1.4,-.9),(-.8,-.35),(-.55,-.6),(-.7,-1.5),(-1,-1.9),(-1.4,-2.05),(-1.6,-1.7)],
 [(.9,1.0),(1.6,.9),(2.1,1.0),(2.75,1.6)],
 [(.8,3.7),(1.2,3.3),(2.1,2.9),(2.5,2.0)],
 [(2.75,-1.5),(2.4,-2.0),(1.9,-3.0)],
 [(-1.9,-3.75),(-1.85,-3.1),(-1.4,-3.1),(-.9,-3.7)],
]

Y_D = [5,4,3,2,1,0,-1,-2,-3,-4,-5]
D_Z = [
[0,0,0,0,0,0,0,0,0],
[0,0,0,0,0,-.6,-1,-.2,0],
[0,0,0,0,-.2,-.8,-2.0,-1,0],
[0,0,0,-.1,-.4,-1.8,-1.6,-.8,0],
[0,0,-.1,-.2,-.3,-.8,-.9,-.6,-.1],
[0,-.3,-.3,-.2,0,-.2,-.4,-.5,-.5],
[-.5,-.7,-.9,-.8,-.3,-.1,-.2,0,0],
[-.1,-.8,-1.6,-1.8,-.6,-.2,0,0,0],
[0,-.9,-1.2,-2,-.9,-.1,0,0,0],
[0,-.1,-.6,-2.4,-.7,0,0,0,0],
[0,0,0,-.3,0,0,0,0,0]]
D_RIDGES = [[(.1,.2),(.45,1.4),(.9,3.1)],[(-.1,-.3),(-.5,-1.3),(-.85,-2.4),(-.8,-4.4)]]
D_SPOTS = [([(1.0,3.95),(1.1,4.75),(1.25,4.5)],1.6),([(-1.35,-3.9),(-1.25,-4.7),(-1.05,-4.8)],1.2)]

E_Z = [
[-.5]*9,
[-.5,-.5,-.5,-.5,-.5,-.2,-.6,-.5,-.5],
[-.5,-.5,-.5,-.5,-.5,-.8,-.3,-.8,-.5],
[-.6,-.6,-.6,-.7,-1.2,-1.1,-.2,-1.1,-.4],
[-.8,-.8,-1,-1.7,-2,-1.1,-.3,-1.6,-.4],
[-.3,-1.0,-1.7,-2.3,-2.2,-2.6,-2.2,-2,-.3],
[-.3,-1.3,-1.8,-2,-.5,-1.6,-2,-.6,-.3],
[-.3,-1.0,-1.7,-1.2,-.2,-1.1,-1.2,-.5,-.3],
[-.3,-.5,-.9,-.7,-.3,-1,-.7,-.3,-.3],
[-.3,-.3,-.2,-.1,-.05,-.4,-.3,-.3,-.3],
[-.1]*9]
E_RIDGES = [[(.1,.2),(.5,1.4),(.95,3.2)],[(-.1,-.3),(-.5,-1.5),(-.8,-2.6)],[(-.9,-3.6),(-.85,-4.8)],[(-1.2,-3.8),(-1.35,-4.5)]]
E_RAYS = [[(0,0),(-1.45,.3)],[(0,0),(-1.2,.7)],[(0,0),(-.65,1.5)],[(0,0),(-1.5,-.7)],[(0,0),(-1.35,-1.6)],[(0,0),(-.95,-.9)],[(0,0),(.7,1.0)],[(0,0),(1.5,.55)],[(0,0),(.9,-.5)],[(0,0),(.45,-1.5)],[(0,0),(-.2,1.1)],[(0,0),(1.2,.1)]]

X_F = [-2.5,-2,-1.5,-1,-.5,0,.5,1,1.5,2,2.5]
Y_F = [5.5,4.5,3.5,2.5,1.5,.5,-.5,-1.5,-2.5,-3.5,-4.5,-5.5]
F_Z = [
[-1.1,-1.4,-1.0,-.9,-1,-1.2,-1.0,-.9,-.9,-.6,-.4],
[-1.2,-1.1,-1.3,-.9,-1.7,-1.8,-1.2,-.9,-.9,-.7,-.6],
[-1.0,-1.5,-1.3,.1,-1.6,-1.1,-.8,-.9,-.7,-.8,-1],
[-1.2,-1.5,-1,.05,.35,-1,-.9,-.9,-.9,-.8,-1.2],
[-1.5,-1.6,-.8,-.1,.3,-1.2,-1,-1.4,-1,-.9,-1.2],
[-2,-1.6,-.6,-.5,-.3,-2,-2.2,-1.7,-.6,-.6,-.7],
[-1.4,-1.7,-1.5,-2,-2.5,-1.5,-.2,-.1,-.3,-.9,-.9],
[-1.4,-1.3,-.8,-.9,-1.2,-1.2,.25,0,-.3,-1.6,-1.4],
[-.9,-.8,-.5,-.5,-1.2,-1.3,.3,.4,-.2,-1.3,-1.4],
[-.6,-.9,-.9,-.6,-1.2,-1.0,-.1,.5,0,-1.4,-1.5],
[-.3,-.8,-.4,-.4,-.8,-1,-.7,.5,.5,-1.5,-1.6],
[-.1,-.5,-.3,-.1,-.4,-.8,-1.3,.6,.8,-1.9,-1.5]]
F_BANDS = [
 ([(-2.1,6),(-1.03,6),(-1.03,3.3),(-1.5,4.4)],[-2.1,-1.8,-1.5,-1.2,-1.03],[6,5,4,3],
  [[1.7,1.65,1.45,1.0,.15],[1.65,1.6,1.4,1.0,.2],[1.5,1.5,1.3,.9,.25],[1.2,1.2,1.0,.7,.3]]),
 ([(-1.03,3.3),(-.73,2.5),(-.4,1.4),(-.17,.2),(-.6,.5),(-1.0,1.5),(-1.28,2.8)],[-1.3,-1,-.7,-.4,-.1],[3.3,2.3,1.3,.3],
  [[.3,.45,.45,.4,.3],[.05,.3,.45,.4,.3],[-.3,-.1,.2,.25,.1],[-.5,-.4,-.3,-.2,-.2]]),
 ([(0,-.3),(.1,-1),(.5,-2.6),(.72,-3.3),(.88,-4.7),(.85,-6),(1.7,-6),(1.25,-4),(1.05,-2.5),(.9,-1.4),(.8,-.4)],[0,.4,.8,1.2,1.6],[-.5,-1.5,-2.5,-3.5,-4.5,-5.5],
  [[-.2,-.2,-.15,-.2,-.3],[-.1,.1,.2,.1,-.1],[0,.3,.45,.3,.05],[.2,.4,.55,.5,.2],[.3,.5,.7,.7,.4],[.4,.6,.85,.9,.6]]),
]
F_RIDGES = [
 [(-2.7,4),(-2.3,4.7),(-2.1,5.9)],[(-2.4,3.4),(-2.2,2.2),(-2.0,1.2),(-2.7,.6)],
 [(-.8,4.6),(-.5,5.1),(-.2,3.9),(.4,3.6)],[(-2.7,-1.8),(-2.0,-2.5),(-1.5,-1.7)],
 [(-1.5,-3.9),(-1.0,-3.4),(-.3,-4.1),(.2,-3.2),(.1,-2.0)],
 [(2,-1.2),(2.3,-1.8),(2.1,-3.2),(1.8,-4.5),(1.9,-5.8)],[(2.6,-2.6),(2.3,-3.7),(2.1,-5.3)],
 [(1.3,-.9),(1.9,-1.0),(2.3,-.9)],[(.7,3.9),(.95,3.3),(1.6,3.0)],[(2.7,3.2),(2.0,3.5),(1.2,2.5),(.9,1.7)],
 [(-.95,-1.0),(-.4,-1.8),(.05,-2.7)],[(0,.3),(1.2,.25),(1.0,.6)],
]

X_G = [-1.5,-1,-.5,0,.5,1,1.5,2,2.5,3,3.5,4]
Y_G = [1,.5,0,-.5,-1,-1.5,-2,-2.5,-3,-3.5,-4]
G_Z = [
[0,0,0,0,0,0,0,0,0,0,0,0],
[0,0,0,0,0,0,0,0,0,0,0,0],
[0,0,0,0,0,0,0,0,0,0,0,0],
[0,0,0,-.05,-.3,-.1,0,0,0,0,0,0],
[0,0,0,-.2,-.5,-.9,-.5,-.05,0,0,0,0],
[0,0,0,-.1,-.3,-.7,-1.3,-.9,0,0,0,0],
[0,0,0,0,-.1,-.2,-.5,-1.1,-.9,-.2,0,0],
[0,0,0,0,0,-.05,-.3,-.9,-1.0,-.3,0,0],
[0,0,0,0,0,0,-.05,-.2,.1,-1,-.7,-.1],
[0,0,0,0,0,0,0,0,.1,-.4,-1,-.7],
[0,0,0,0,0,0,0,0,0,-.1,-.8,-1]]
G_RIDGES = [[(1.9,-1.95),(3.75,-3.98)]]
H_Z = [
[-2.6,-2.6,-2.6,-2.4,-2.3,-2,-1.8,-1.6,-1.6,-1.6,-1.6,-1.6],
[-3,-3.1,-3.1,-2.7,-2,-2,-1.8,-1.6,-1.6,-1.6,-1.6,-1.6],
[-3,-3.2,-3,-2,-2.3,-1.5,-1.5,-1.5,-1.5,-1.5,-1.5,-1.5],
[-2.8,-3.1,-2.8,-2.4,-2.0,-1.2,-1,-1,-1,-1,-1,-1],
[-2.6,-2.9,-2.7,-2.4,-1.9,-.9,-1,-1,-1,-1,-1,-1],
[-2.4,-2.2,-2.5,-2,-1.8,-1.6,-.3,-.7,-1,-1,-1,-1],
[-1.9,-1.9,-1.9,-1.7,-1.5,-1.2,-.8,-.2,-.4,-.9,-1,-1],
[-1.3,-1.3,-1.3,-1.3,-1.3,-1.1,-.9,-.5,-.1,-.4,-.8,-.8],
[-.9,-.9,-.9,-.9,-.9,-.9,-.7,-.4,-.1,0,-.6,-1],
[-.7,-.7,-.7,-.7,-.7,-.7,-.7,-.4,-.1,.1,.1,-.6],
[-.5,-.5,-.5,-.5,-.5,-.5,-.5,-.3,-.1,0,.1,-.4]]
H_RAYS = [[(-.35,.1),(-1.3,.5)],[(-.35,.1),(-1.1,.8)],[(-.35,.1),(-.6,.9)],[(-.35,.1),(-1.4,.1)],[(-.35,.1),(-1.35,-.3)],[(-.35,.1),(-1.1,-.8)],[(-.35,.1),(-.75,-1.2)],[(-.35,.1),(-.1,.7)],[(-.35,.1),(-1.45,-.1)],[(-.35,.1),(-.9,.9)],[(-.35,.1),(-1.25,.3)],[(-.35,.1),(-1.25,-.55)],[(-.35,.1),(-.95,-1.0)],[(-.35,.1),(-.4,.85)],[(-.3,-.7),(.3,-1.6)],[(.0,-.9),(.9,-1.7)],[(.3,-.5),(1.0,-1.2)],[(-.4,-1),(.2,-1.8)]]
H_RIDGES = [[(2.1,-2.0),(3.6,-3.9)]]

X_I = [-2.5,-2,-1.5,-1,-.5,0,.5,1,1.5,2,2.5,3,3.5,4]
Y_I = [1.75,1.25,.75,.25,-.25,-.75,-1.25,-1.75,-2.25,-2.75,-3.25,-3.75]
I_Z = [
[-2.2,-2.7,-2.6,-2.5,-2.5,-2.4,-2.2,-2.8,-1.9,-1.8,-2,-2.6,-3.1,-2.6],
[-2.2,-2.8,-2.9,-3.2,-3.0,-2.7,-2.7,-3.1,-2.3,-2.3,-2.7,-2.7,-2.9,-2.5],
[-2.3,-2.8,-2.8,-3.2,-3.2,-3,-3.2,-3.0,-2.6,-2.5,-2.8,-2.5,-2.6,-2.3],
[-2.4,-2.9,-3,-3.1,-3.2,-3.2,-3,-2.8,-2.7,-2.7,-3,-2.5,-2.4,-2.3],
[-2.3,-2.8,-3,-3,-3.2,-3,-2.9,-3,-2.7,-2.9,-3.1,-3,-2.6,-2.3],
[-2.3,-2.6,-2.9,-3,-3.2,-3,-2.8,-3,-2.8,-2.9,-2.8,-2.7,-2.5,-2.4],
[-2.7,-2.5,-2.7,-3,-3.2,-3.1,-3.0,-3,-2.9,-3,-2.8,-2.8,-2.5,-2.5],
[-2.6,-2.6,-2.6,-3,-3.0,-3.1,-3.1,-3.1,-3,-3.3,-2.8,-2.7,-2.5,-2.4],
[-2.2,-2.4,-2.9,-2.7,-2.7,-3.1,-2.8,-2.8,-3,-2.9,-2.8,-2.7,-2.3,-2.1],
[-1.9,-2.1,-2.3,-2.5,-2.9,-2.5,-2.4,-2.6,-2.7,-2.5,-2.4,-2.3,-2.1,-1.8],
[-1.5,-1.8,-2,-2.1,-2.7,-2.1,-2.1,-2.2,-2.2,-2.1,-2,-1.8,-1.6,-1.3],
[-1.1,-1.3,-1.6,-1.7,-3,-1.7,-1.7,-1.6,-1.4,-1.2,-1.1,-1,-.9,-.9]]
I_BANDS = [
 ([(.38,.05),(.65,.3),(1.05,.52),(1.45,.72),(1.72,.76),(1.68,.5),(1.4,.15),(1.1,0),(.75,.0)],
  [.4,.8,1.2,1.6,1.8],[.8,.4,0],[[-.6,-.4,-.1,.1,.1],[-.7,-.35,-.1,-.1,-.3],[-.8,-.6,-.4,-.5,-.5]]),
]
I_RIDGES = [[(-.71,-3.99),(-.52,-3.12),(-.14,-2.52),(.12,-2.3)],[(-.6,1.86),(-.6,1.39),(-.14,.56)],[(1.07,1.83),(.69,1.11),(.54,.78)],[(-1.74,-2.52),(-1.2,-2.1)],[(1.7,-1.5),(1.98,-1.64),(2.1,-1.9)],[(1.26,-.81),(1.3,-1.31)],[(1.34,-2.3),(1.38,-2.91)],[(3.8,1.5),(3.85,1.05)],[(2.97,-.48),(3.43,-.26)],[(-1.89,1.66),(-.98,.84)],[(-.07,-.04),(0,-.93)]]

# ---------- ticks / text ----------
TICKS_VDP1_X = [-2,-1,0,1,2]; TICKS_VDP1_Y = [-3,-2,-1,0,1,2,3]
TICKS_VDP3_X = [-2,-1,0,1,2]; TICKS_VDP3_Y = [-6,-4,-2,0,2,4,6]
TICKS_TMP_X = [-2,-1,0,1,2,3,4]; TICKS_TMP_Y = [-4,-3,-2,-1,0,1]
CB_A = [-.4,-.2,0,.2,.4]; CB_D = [-3,-2,-1,0,1,2,3]; CB_G = [-4,-2,0,2,4]

S = 1390/1270
W, H = 1390, 1716
TICKFS = 10.4
plt.rcParams['font.family'] = 'DejaVu Sans'
plt.rcParams['axes.edgecolor'] = '#222222'
plt.rcParams['axes.linewidth'] = .8
plt.rcParams['xtick.color'] = '#222222'; plt.rcParams['ytick.color'] = '#222222'
fig = plt.figure(figsize=(W/100, H/100), dpi=100)
renderer = fig.canvas.get_renderer()

def add_box(l, t, r, b):
    return fig.add_axes([l*S/W, 1-b*S/H, (r-l)*S/W, (b-t)*S/H])

def smooth_path(pts, closed=False):
    p = np.array(pts, float); n = len(p)
    if n == 2:
        return Path(p)
    idx = (lambda i: p[i % n]) if closed else (lambda i: p[min(max(i, 0), n-1)])
    verts = [p[0]]; codes = [Path.MOVETO]
    for i in range(n if closed else n-1):
        p0, p1, p2, p3 = idx(i-1), idx(i), idx(i+1), idx(i+2)
        verts += [p1+(p2-p0)/6, p2-(p3-p1)/6, p2]
        codes += [Path.CURVE4]*3
    return Path(np.array(verts), codes)

def heat(ax, xs, ys, z, cmap, vmin, vmax, clip=None, zorder=1):
    xs = np.array(xs, float); ys = np.array(ys, float)
    dx = abs(xs[1]-xs[0])/2; dy = abs(ys[1]-ys[0])/2
    im = ax.imshow(np.array(z, float), extent=[xs[0]-dx, xs[-1]+dx, ys[-1]-dy, ys[0]+dy], origin='upper',
                   cmap=cmap, vmin=vmin, vmax=vmax, aspect='auto', interpolation='bilinear',
                   interpolation_stage='data', zorder=zorder)
    if clip is not None:
        im.set_clip_path(clip)
    return im

def draw_streams(ax, lines, arrows, color, lw=1.5):
    xl = ax.get_xlim(); yl = ax.get_ylim()
    sx = (xl[1]-xl[0])*.004; sy = (yl[1]-yl[0])*.004
    for ln in lines:
        ax.add_patch(PathPatch(smooth_path(ln), fill=False, ec=color, lw=lw, zorder=3, capstyle='butt'))
    for (x, y, d) in arrows:
        best = None
        for ln in lines:
            a = np.array(ln, float)
            for i in range(len(a)-1):
                m = (a[i]+a[i+1])/2
                seglen = np.hypot((a[i+1][0]-a[i][0])/sx, (a[i+1][1]-a[i][1])/sy)
                dist = np.hypot((m[0]-x)/sx, (m[1]-y)/sy)-seglen/2
                if best is None or dist < best[0]:
                    best = (dist, a[i+1]-a[i])
        t = best[1]/np.array([sx, sy]); t = t/np.hypot(*t)
        if (d == 'u' and t[1] < 0) or (d == 'd' and t[1] > 0) or (d == 'l' and t[0] > 0) or (d == 'r' and t[0] < 0):
            t = -t
        ax.add_patch(FancyArrowPatch((x, y), (x+t[0]*sx, y+t[1]*sy), arrowstyle='-|>', mutation_scale=11,
                                     color=color, lw=lw, shrinkA=0, shrinkB=0, zorder=3.5))

def ridges(ax, lines, color, lw, alpha=.75, clip=None):
    for ln in lines:
        pp = PathPatch(smooth_path(ln), fill=False, ec=color, lw=lw, alpha=alpha, zorder=2, capstyle='round')
        ax.add_patch(pp)
        if clip is not None:
            pp.set_clip_path(clip)

def flat_spots(ax, items, cmap, vmin, vmax, clip=None):
    nrm = Normalize(vmin, vmax)
    for pts, val in items:
        pp = ax.add_patch(PathPatch(Path(list(pts)+[pts[0]]), fc=plt.get_cmap(cmap)(nrm(val)), ec='none', zorder=1.5))
        if clip is not None:
            pp.set_clip_path(clip)

def grid_bands(ax, items, cmap, vmin, vmax):
    for pts, xs, ys, z in items:
        pp = PathPatch(Path(list(pts)+[pts[0]]), fc='none', ec='none')
        ax.add_patch(pp)
        heat(ax, xs, ys, z, cmap, vmin, vmax, pp, zorder=2.2)

def finish(ax, xlim, ylim, xt, yt, title):
    ax.set_xlim(*xlim); ax.set_ylim(*ylim)
    ax.set_xticks(xt); ax.set_yticks(yt)
    ax.tick_params(labelsize=TICKFS, length=3.3, width=.75, pad=3)
    ax.set_xlabel(r'$x_1$', fontsize=11.5, labelpad=1)
    ax.set_ylabel(r'$x_2$', fontsize=11.5, labelpad=1)
    ax.set_title(title, fontsize=12.9, pad=4.5)
    ax.set_aspect('auto')

def colorbar(box, cmap, norm, ticks=None, label=False):
    cax = add_box(*box)
    cb = fig.colorbar(ScalarMappable(norm=norm, cmap=cmap), cax=cax)
    if ticks is not None:
        cb.set_ticks(ticks)
    cb.ax.tick_params(labelsize=TICKFS, length=3.3, width=.75, pad=2.5)
    cb.ax.tick_params(which='minor', length=1.9, width=.6)
    cb.outline.set_linewidth(.8)
    if label:
        fig.text((box[2]+53)*S/W, 1-(box[1]+box[3])/2*S/H, r'$\|f-\hat{f}\|$', rotation=270, fontsize=11,
                 ha='center', va='center', color='#222222')

def side_labels(top):
    for off, c, txt in [(84, 'red', r'$\hat{V}^{\top}f>0$'), (199, 'blue', r'$\hat{V}^{\top}f<0$')]:
        fig.add_artist(Line2D([396*S/W], [1-(top+off)*S/H], marker='o', ms=3.6, color=c, ls='none'))
        fig.text(398*S/W, 1-(top+off+33)*S/H, txt, rotation=270, fontsize=11.5, ha='center', va='center', color='#222222')

def legend(ax):
    ax.legend(handles=[Line2D([], [], color='#440154', lw=1.5, label=r'Level set $\hat{V}(x)=1$')],
              loc='upper left', fontsize=10.8, borderaxespad=.5, framealpha=.8).set_zorder(6)

def boundary(ax, pts, zorder=4):
    patch = PathPatch(smooth_path(pts, closed=True), fc='none', ec='#440154', lw=1.5, zorder=zorder)
    ax.add_patch(patch)
    return patch

def dot(ax):
    ax.plot([0], [0], 'o', color='black', ms=7.2, zorder=5)

L1 = (-2.78, 2.76); L1Y = (-3.72, 3.72)
L3 = (-2.72, 2.72); L3Y = (-6, 6)
LT = (-2.6, 4); LTY = (-4, 1.9)
COL1 = (52, 314); COL2 = (471, 733); COL3 = (891, 1152)
CB1 = (331, 348); CB2 = (749, 766); CB3 = (1168, 1185)

def true_panel(col, cb, t, b, xl, yl, xt, yt, xs, ys, z, vm, bnd, lines, arrows, cbt, rid=None, ridc=None, spots=None):
    ax = add_box(col[0], t, col[1], b)
    finish(ax, xl, yl, xt, yt, 'True Phase Portrait')
    clip = boundary(ax, bnd)
    heat(ax, xs, ys, z, 'bwr', -vm, vm, clip)
    if rid:
        ridges(ax, rid, ridc, 2.2, .4, clip)
    if spots:
        flat_spots(ax, spots, 'bwr', -vm, vm, clip)
    draw_streams(ax, lines, arrows, '#1f77b4')
    ax.set_xlim(*xl); ax.set_ylim(*yl)
    dot(ax); legend(ax)
    colorbar((cb[0], t, cb[1], b), 'bwr', Normalize(-vm, vm), cbt)
    side_labels(t)

def err_panel(col, cb, t, b, xl, yl, xt, yt, xs, ys, z, lo, hi, lines, arrows, bnd=None, rays=None, rayc=None, rays2=None, ray2c=None, rid=None, ridc=None, ridw=1.2, bnds=None):
    ax = add_box(col[0], t, col[1], b)
    finish(ax, xl, yl, xt, yt, 'Learned Phase Portrait')
    vmin, vmax = np.log10(lo), np.log10(hi)
    clip = boundary(ax, bnd) if bnd is not None else None
    heat(ax, xs, ys, z, 'jet', vmin, vmax, clip)
    if rays2:
        ridges(ax, rays2, ray2c, 1.6, .6, clip)
    if rays:
        ridges(ax, rays, rayc, .8, .6, clip)
    if rid:
        ridges(ax, rid, ridc, ridw, .75, clip)
    if bnds:
        grid_bands(ax, bnds, 'jet', vmin, vmax)
    draw_streams(ax, lines, arrows, 'black')
    ax.set_xlim(*xl); ax.set_ylim(*yl)
    dot(ax)
    colorbar((cb[0], t, cb[1], b), 'jet', LogNorm(lo, hi), None, True)

# Row 1
true_panel(COL1, CB1, 46, 373, L1, L1Y, TICKS_VDP1_X, TICKS_VDP1_Y, X_VDP, Y_A, A_Z, .56, VDP1_BOUNDARY, A_LINES, A_ARROWS, CB_A)
err_panel(COL2, CB2, 48, 373, L1, L1Y, TICKS_VDP1_X, TICKS_VDP1_Y, X_VDP, Y_B, B_Z, 5e-5, 50, B_LINES, B_ARROWS, bnd=VDP1_BOUNDARY, rays=B_RAYS, rayc='#0a2fe0', rays2=B_RAYS_LIGHT, ray2c='#00d8ff')
err_panel(COL3, CB3, 25, 349, L1, L1Y, TICKS_VDP1_X, TICKS_VDP1_Y, X_C, Y_C, C_Z, 5e-5, 50, C_LINES, C_ARROWS, rid=C_RIDGES, ridc='#0a80f0', ridw=1.6, bnds=C_BANDS)
# Row 2
true_panel(COL1, CB1, 577, 905, L3, L3Y, TICKS_VDP3_X, TICKS_VDP3_Y, X_VDP, Y_D, D_Z, 3.55, VDP3_BOUNDARY, D_LINES, D_ARROWS, CB_D, rid=D_RIDGES, ridc='#3a50ff', spots=D_SPOTS)
err_panel(COL2, CB2, 579, 905, L3, L3Y, TICKS_VDP3_X, TICKS_VDP3_Y, X_VDP, Y_D, E_Z, 5e-4, 50, E_LINES, E_ARROWS, bnd=VDP3_BOUNDARY, rays=E_RAYS, rayc='#0a30e0', rid=E_RIDGES, ridc='#ffb000', ridw=2.6)
err_panel(COL3, CB3, 555, 880, L3, L3Y, TICKS_VDP3_X, TICKS_VDP3_Y, X_F, Y_F, F_Z, 5e-4, 50, F_LINES, F_ARROWS, rid=F_RIDGES, ridc='#0a90f0', ridw=1.6, bnds=F_BANDS)
# Row 3
true_panel(COL1, CB1, 1108, 1436, LT, LTY, TICKS_TMP_X, TICKS_TMP_Y, X_G, Y_G, G_Z, 5.2, TMP_BOUNDARY, TMP_LINES+G_EXTRA, TMP_ARROWS+G_EXTRA_ARROWS, CB_G, rid=G_RIDGES, ridc='#6a6aff')
err_panel(COL2, CB2, 1110, 1436, LT, LTY, TICKS_TMP_X, TICKS_TMP_Y, X_G, Y_G, H_Z, 5e-5, 10, H_LINES, H_ARROWS, bnd=TMP_BOUNDARY, rays=H_RAYS, rayc='#0a2fe0', rid=H_RIDGES, ridc='#ff3000', ridw=1.2)
err_panel(COL3, CB3, 1086, 1411, LT, LTY, TICKS_TMP_X, TICKS_TMP_Y, X_I, Y_I, I_Z, 5e-5, 10, TMP_LINES+I_EXTRA, TMP_ARROWS+I_EXTRA_ARROWS, rid=I_RIDGES, ridc='#0818e0', ridw=2.0, bnds=I_BANDS)

# ---------- captions ----------
CAP = dict(family='Liberation Serif', fontsize=17.4, color='#111111', va='center')
def justified(words, left, right, y):
    ts = [fig.text(0, 1-y*S/H, w, ha='left', **CAP) for w in words]
    ws = [t.get_window_extent(renderer).width for t in ts]
    gap = ((right-left)*S-sum(ws))/(len(ws)-1)
    x = left*S
    for t, w in zip(ts, ws):
        t.set_x(x/W); x += w+gap

for y, cap in [(443, '(a) True flow and learned ROA'), (975, '(d) True flow and learned ROA'), (1506, '(g) True flow and learned ROA')]:
    justified(cap.split(), 65, 346, y)
for y, cap in [(443, '(b) Learned flow with our method'), (975, '(e) Learned flow with our method'), (1506, '(h) Learned flow with our method')]:
    justified(cap.split(), 472, 779, y)
for y, cap in [(420, '(c) Learned flow with globally stable model'), (951, '(f) Learned flow with globally stable model'), (1482, '(i) Learned flow with globally stable model')]:
    justified(cap.split(), 839, 1252, y)
    fig.text(839*S/W, 1-(y+24)*S/H, '[20]', ha='left', **CAP)
for y, v in [(493, '1'), (1024, '3')]:
    fig.text(622*S/W, 1-y*S/H, r'$\mathit{VdP\ system}$ (80) $\mathit{with}\ \mu=$ ' + v,
             ha='center', math_fontfamily='stix', **CAP)
fig.text(625*S/W, 1-1555*S/H, r'$\mathit{TMP\ system}$ (81)', ha='center', math_fontfamily='stix', **CAP)

fig.savefig('out.png', dpi=100, facecolor='white')
